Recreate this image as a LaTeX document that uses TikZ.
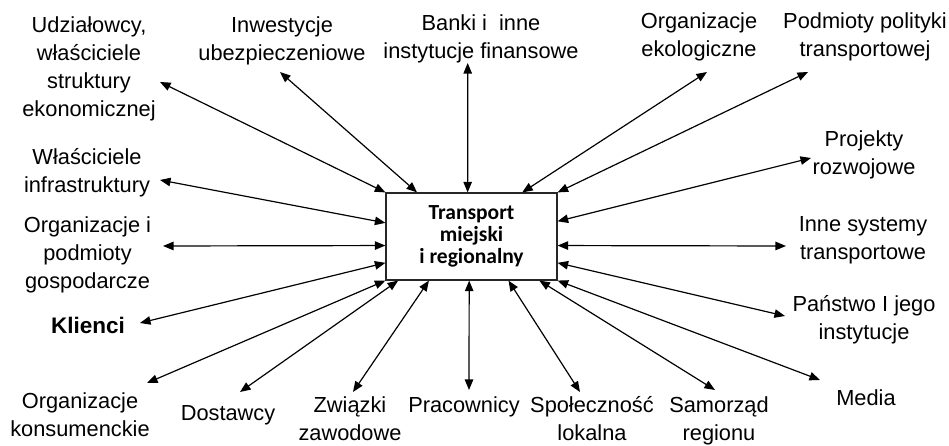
\documentclass[tikz,border=0pt]{standalone}
\usepackage{fontspec}
\setmainfont{Liberation Sans}
\newfontfamily\boxfont{Carlito}
\usepackage{tikz}
\usetikzlibrary{arrows.meta}

\begin{document}
\begin{tikzpicture}[
      x=0.025cm, y=-0.025cm,
      mybox/.style={
         rectangle,
         draw=black!85,
         line width=0.8pt,
         minimum width=4.275cm,
         minimum height=2.175cm,
         align=center,
         font=\boxfont\bfseries\fontsize{15.3}{15.8}\selectfont},
      mylabel/.style={
         align=center,
         inner sep=0pt,
         font=\fontsize{15.5}{19.8}\selectfont},
      myarrow/.style={{Triangle[length=7.5pt,width=6pt]}-{Triangle[length=7.5pt,width=6pt]},
         line width=0.85pt}
      ]
      \useasboundingbox (0,0) rectangle (949,446);

      \node[mybox] (tr) at (471.5,236.5) {Transport\\miejski\\i regionalny};

      \node[mylabel] (l1) at (89,69) {Udziałowcy,\\właściciele\\struktury\\ekonomicznej};
      \node[mylabel] (l2) at (282,41) {Inwestycje\\ubezpieczeniowe};
      \node[mylabel] (l3) at (481,39) {Banki i~~inne\\instytucje finansowe};
      \node[mylabel] (l4) at (699,37) {Organizacje\\ekologiczne};
      \node[mylabel] (l5) at (865,37) {Podmioty polityki\\transportowej};
      \node[mylabel] (l6) at (864,155) {Projekty\\rozwojowe};
      \node[mylabel] (l7) at (863,240) {Inne systemy\\transportowe};
      \node[mylabel] (l8) at (864,320) {Państwo I jego\\instytucje};
      \node[mylabel] (l9) at (866,398) {Media};
      \node[mylabel] (l10) at (719,421) {Samorząd\\regionu};
      \node[mylabel] (l11) at (592,419) {Społeczność\\lokalna};
      \node[mylabel] (l12) at (464,407) {Pracownicy};
      \node[mylabel] (l13) at (350,419) {Związki\\zawodowe};
      \node[mylabel] (l14) at (228,415) {Dostawcy};
      \node[mylabel] (l15) at (80,415) {Organizacje\\konsumenckie};
      \node[mylabel,font=\bfseries\fontsize{16}{19.8}\selectfont] (l16) at (88,325) {Klienci};
      \node[mylabel] (l17) at (87.5,255) {Organizacje i\\podmioty\\gospodarcze};
      \node[mylabel] (l18) at (87,173) {Właściciele\\infrastruktury};

      % arrow ends next to the labels
      \foreach \n/\x/\y in {e1/160/82, e2/280/72, e3/467.7/63, e4/707/72,
        e5/808/72, e6/811/158, e7/786/246, e8/785/316, e9/820/380,
        e10/715/390, e11/580/392, e12/469/390, e13/353/392, e14/240/392,
        e15/147/383, e16/140/323, e17/163/246, e18/160/180}
         \coordinate (\n) at (\x,\y);

    \foreach \i/\j in {% label end/box side
      e1/tr.north west,
      e2/tr.141,
      e3/tr.95,
      e4/tr.41,
      e5/tr.north east,
      e6/tr.10,
      e7/tr.354,
      e8/tr.343,
      e9/tr.south east,
      e10/tr.327,
      e11/tr.310,
      e12/tr.267,
      e13/tr.226,
      e14/tr.211,
      e15/tr.south west,
      e16/tr.197,
      e17/tr.186,
      e18/tr.171}
       \draw[myarrow] (\i) -- (\j);
    \end{tikzpicture}
\end{document}
